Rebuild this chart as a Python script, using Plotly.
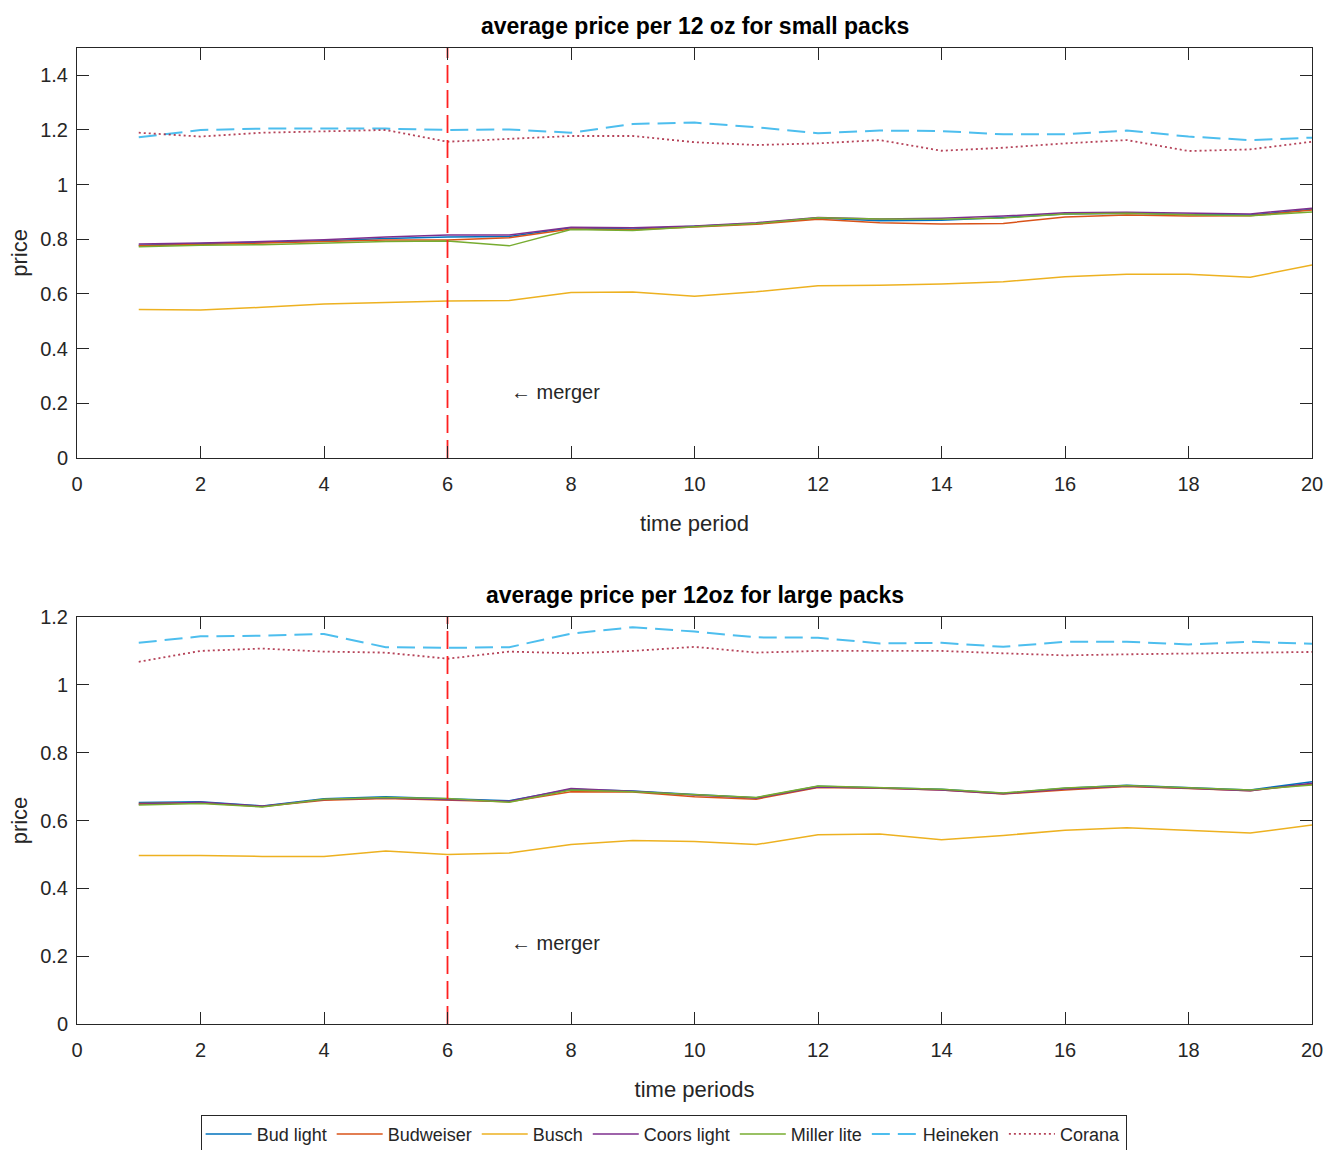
import plotly.graph_objects as go

periods = list(range(1, 21))
brands = ["Bud light", "Budweiser", "Busch", "Coors light", "Miller lite", "Heineken", "Corana"]

# small packs
bud_light_s = [0.778, 0.784, 0.788, 0.795, 0.803, 0.808, 0.810, 0.842, 0.838, 0.847, 0.858, 0.878, 0.868, 0.870, 0.880, 0.893, 0.895, 0.891, 0.889, 0.910]
budweiser_s = [0.776, 0.781, 0.785, 0.791, 0.797, 0.797, 0.806, 0.838, 0.835, 0.845, 0.855, 0.873, 0.861, 0.856, 0.858, 0.882, 0.889, 0.885, 0.886, 0.907]
busch_s = [0.543, 0.541, 0.551, 0.563, 0.569, 0.574, 0.576, 0.605, 0.607, 0.592, 0.608, 0.630, 0.632, 0.636, 0.645, 0.663, 0.672, 0.672, 0.661, 0.706]
coors_s = [0.783, 0.786, 0.792, 0.798, 0.808, 0.816, 0.816, 0.844, 0.842, 0.849, 0.861, 0.880, 0.874, 0.877, 0.885, 0.897, 0.899, 0.895, 0.893, 0.914]
miller_s = [0.773, 0.778, 0.780, 0.787, 0.792, 0.794, 0.776, 0.836, 0.832, 0.846, 0.858, 0.879, 0.874, 0.873, 0.878, 0.893, 0.895, 0.890, 0.886, 0.900]
heineken_s = [1.173, 1.200, 1.205, 1.206, 1.205, 1.200, 1.202, 1.190, 1.222, 1.227, 1.210, 1.188, 1.198, 1.196, 1.184, 1.184, 1.198, 1.176, 1.163, 1.172]
corona_s = [1.190, 1.176, 1.190, 1.195, 1.200, 1.157, 1.167, 1.178, 1.178, 1.155, 1.145, 1.151, 1.163, 1.124, 1.135, 1.151, 1.163, 1.123, 1.129, 1.157]

# large packs
bud_light_l = [0.653, 0.655, 0.643, 0.664, 0.670, 0.664, 0.658, 0.692, 0.687, 0.677, 0.667, 0.701, 0.697, 0.692, 0.680, 0.695, 0.704, 0.696, 0.690, 0.714]
budweiser_l = [0.650, 0.652, 0.641, 0.660, 0.665, 0.660, 0.655, 0.685, 0.684, 0.670, 0.663, 0.697, 0.695, 0.690, 0.678, 0.690, 0.700, 0.694, 0.688, 0.708]
busch_l = [0.497, 0.497, 0.494, 0.494, 0.510, 0.500, 0.504, 0.529, 0.541, 0.538, 0.529, 0.558, 0.560, 0.543, 0.556, 0.571, 0.579, 0.571, 0.563, 0.587]
coors_l = [0.648, 0.654, 0.642, 0.662, 0.666, 0.662, 0.657, 0.694, 0.686, 0.675, 0.666, 0.699, 0.696, 0.690, 0.679, 0.693, 0.702, 0.695, 0.688, 0.710]
miller_l = [0.646, 0.650, 0.640, 0.663, 0.668, 0.665, 0.654, 0.690, 0.685, 0.676, 0.668, 0.702, 0.697, 0.692, 0.681, 0.696, 0.703, 0.697, 0.690, 0.705]
heineken_l = [1.124, 1.143, 1.145, 1.150, 1.111, 1.109, 1.111, 1.151, 1.170, 1.157, 1.140, 1.139, 1.122, 1.124, 1.112, 1.127, 1.127, 1.119, 1.127, 1.121]
corona_l = [1.068, 1.100, 1.107, 1.098, 1.095, 1.077, 1.098, 1.093, 1.100, 1.112, 1.095, 1.100, 1.100, 1.100, 1.093, 1.087, 1.090, 1.092, 1.095, 1.097]

merger_period = 6
x_ticks = list(range(0, 21, 2))

small = [bud_light_s, budweiser_s, busch_s, coors_s, miller_s, heineken_s, corona_s]
large = [bud_light_l, budweiser_l, busch_l, coors_l, miller_l, heineken_l, corona_l]

colors = ["#0072BD", "#D95319", "#EDB120", "#7E2F8E", "#77AC30", "#4DBEEE", "rgba(162,20,47,0.8)"]
dashes = ["solid", "solid", "solid", "solid", "solid", "18px,8px", "2px,3px"]
widths = [1.5, 1.5, 1.5, 1.5, 1.5, 2, 1.8]

FONT = "Liberation Sans, Arial, Helvetica, sans-serif"
fig = go.Figure()

for data, xa, ya, show in [(small, "x", "y", True), (large, "x2", "y2", False)]:
    for name, vals, c, d, w in zip(brands, data, colors, dashes, widths):
        fig.add_trace(go.Scatter(
            x=periods, y=vals, mode="lines", name=name,
            line=dict(color=c, dash=d, width=w),
            xaxis=xa, yaxis=ya, showlegend=show, legendgroup=name,
        ))
    ymax = 1.5 if ya == "y" else 1.2
    fig.add_trace(go.Scatter(
        x=[merger_period, merger_period], y=[0, ymax], mode="lines",
        line=dict(color="#FF2020", dash="18px,7px", width=1.8),
        xaxis=xa, yaxis=ya, showlegend=False, hoverinfo="skip",
    ))

axis_common = dict(
    showline=True, linecolor="#262626", linewidth=1, mirror="ticks",
    ticks="inside", ticklen=12, tickwidth=1, tickcolor="#262626",
    showgrid=False, zeroline=False, automargin=False,
    tickfont=dict(family=FONT, size=20, color="#262626"),
)
title_font = dict(family=FONT, size=22, color="#262626")

fig.update_layout(
    width=1327, height=1150,
    paper_bgcolor="white", plot_bgcolor="white",
    margin=dict(l=77, r=15, t=48, b=126, autoexpand=False),
    xaxis=dict(domain=[0, 1], range=[0, 20], tickvals=x_ticks, anchor="y",
               title=dict(text="time period", font=title_font, standoff=21),
               ticklabelstandoff=8, **axis_common),
    yaxis=dict(domain=[0.580, 1], range=[0, 1.5], tickvals=[0, 0.2, 0.4, 0.6, 0.8, 1, 1.2, 1.4],
               ticktext=["0", "0.2", "0.4", "0.6", "0.8", "1", "1.2", "1.4"], anchor="x",
               title=dict(text="price", font=title_font, standoff=6),
               ticklabelstandoff=4, **axis_common),
    xaxis2=dict(domain=[0, 1], range=[0, 20], tickvals=x_ticks, anchor="y2",
                title=dict(text="time periods", font=title_font, standoff=21),
                ticklabelstandoff=8, **axis_common),
    yaxis2=dict(domain=[0, 0.417], range=[0, 1.2], tickvals=[0, 0.2, 0.4, 0.6, 0.8, 1, 1.2],
                ticktext=["0", "0.2", "0.4", "0.6", "0.8", "1", "1.2"], anchor="x2",
                title=dict(text="price", font=title_font, standoff=6),
                ticklabelstandoff=4, **axis_common),
    legend=dict(orientation="h", x=0.475, xanchor="center", y=-0.093, yanchor="top",
                bordercolor="#262626", borderwidth=1, bgcolor="white",
                font=dict(family=FONT, size=18, color="#262626"),
                itemwidth=46, tracegroupgap=0),
    annotations=[
        dict(text="<b>average price per 12 oz for small packs</b>", xref="paper", yref="paper",
             x=0.5, y=1.0, yanchor="bottom", yshift=7, showarrow=False,
             font=dict(family=FONT, size=23, color="black")),
        dict(text="<b>average price per 12oz for large packs</b>", xref="paper", yref="paper",
             x=0.5, y=0.417, yanchor="bottom", yshift=7, showarrow=False,
             font=dict(family=FONT, size=23, color="black")),
        dict(text="\u2190 merger", xref="x", yref="y", x=7, y=0.24, xanchor="left", yanchor="middle",
             showarrow=False, font=dict(family=FONT, size=20, color="#262626")),
        dict(text="\u2190 merger", xref="x2", yref="y2", x=7, y=0.24, xanchor="left", yanchor="middle",
             showarrow=False, font=dict(family=FONT, size=20, color="#262626")),
    ],
)

fig.write_html("out.html")
